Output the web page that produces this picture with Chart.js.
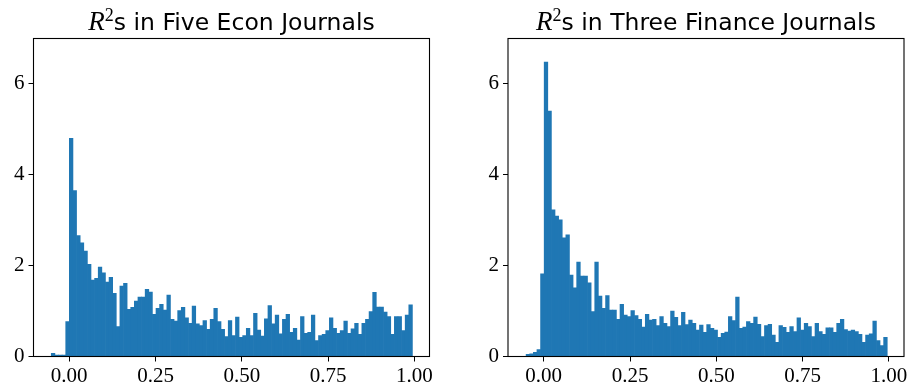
<!DOCTYPE html>
<html>
<head>
<meta charset="utf-8">
<script src="https://cdn.jsdelivr.net/npm/chart.js@4.4.1/dist/chart.umd.min.js"></script>
<style>
    body { margin: 0; background: #fff; }
    #wrap { position: relative; width: 912px; height: 388px; overflow: hidden; }
    canvas { position: absolute; top: 0; }
    .title {
        position: absolute; top: 6px; text-align: center; white-space: nowrap;
        font-family: 'DejaVu Sans', sans-serif; font-size: 23.5px; line-height: 30px; color: #000;
    }
    .title i { font-family: 'Liberation Serif', serif; font-size: 27px; }
    .title sup { font-family: 'Liberation Serif', serif; font-size: 18px; vertical-align: 0.5em; line-height: 0; }
</style>
</head>
<body>
<div id="wrap">
    <canvas id="chart-econ" width="456" height="388" style="left:0"></canvas>
    <canvas id="chart-finance" width="456" height="388" style="left:456px"></canvas>
    <div class="title" style="left:33.5px; width:396px;"><i>R</i><sup>2</sup>s in Five Econ Journals</div>
    <div class="title" style="left:508px; width:396px;"><i>R</i><sup>2</sup>s in Three Finance Journals</div>
</div>
<script>
// histogram bins (100 bins each, density on the y axis)
const binWidth = 0.01046;
const econBinStart = -0.052;
const financeBinStart = -0.051;

const xTicks = [0, 0.25, 0.5, 0.75, 1];
const yTicks = [0, 2, 4, 6];

const econDensity = [
    0.07, 0.03, 0.03, 0.03, 0.77, 4.80, 3.65, 2.66, 2.50, 2.32,
    2.03, 1.68, 1.72, 1.97, 1.84, 1.64, 1.74, 1.39, 0.66, 1.55,
    1.61, 1.04, 1.08, 1.22, 1.31, 1.31, 1.48, 1.42, 0.93, 1.06,
    1.15, 1.02, 1.35, 0.82, 0.78, 1.01, 1.08, 0.85, 0.73, 1.11,
    0.72, 0.68, 0.79, 0.60, 0.82, 1.06, 0.77, 0.60, 0.44, 0.79,
    0.46, 0.87, 0.42, 0.46, 0.62, 0.46, 0.95, 0.58, 0.45, 0.83,
    1.12, 0.72, 0.91, 0.50, 0.82, 0.93, 0.53, 0.62, 0.36, 0.88,
    0.51, 0.53, 0.91, 0.35, 0.46, 0.49, 0.57, 0.85, 0.62, 0.51,
    0.57, 0.78, 0.51, 0.61, 0.73, 0.49, 0.73, 0.82, 0.99, 1.41,
    1.09, 1.09, 0.98, 0.88, 0.49, 0.88, 0.88, 0.57, 0.91, 1.14
];

const financeDensity = [
    0.05, 0.06, 0.09, 0.15, 1.82, 6.48, 5.40, 3.23, 3.09, 3.01,
    2.61, 2.68, 1.79, 1.51, 2.08, 1.77, 1.77, 1.62, 0.99, 2.08,
    1.33, 1.06, 1.34, 1.02, 1.02, 0.82, 1.15, 0.91, 0.88, 1.01,
    0.90, 0.82, 0.65, 0.93, 0.80, 0.82, 0.68, 0.88, 0.73, 0.66,
    1.00, 0.86, 0.68, 0.97, 0.70, 0.80, 0.73, 0.58, 0.69, 0.53,
    0.70, 0.62, 0.58, 0.42, 0.51, 0.54, 0.88, 0.79, 1.31, 0.62,
    0.65, 0.77, 0.73, 0.87, 0.71, 0.44, 0.68, 0.71, 0.47, 0.31,
    0.68, 0.64, 0.53, 0.66, 0.55, 0.85, 0.58, 0.73, 0.66, 0.44,
    0.73, 0.55, 0.49, 0.63, 0.63, 0.53, 0.73, 0.82, 0.59, 0.56,
    0.58, 0.55, 0.49, 0.31, 0.47, 0.50, 0.78, 0.35, 0.24, 0.42
];

const X_MIN = -0.1035, X_MAX = 1.0435;
const Y_MIN = 0, Y_MAX = 7;
const BAR_COLOR = '#1f77b4';
const TICK_FONT = { family: 'Liberation Serif', size: 21 };

// draws the full box round the plot area, like matplotlib spines
const framePlugin = {
    id: 'frame',
    afterDraw(chart) {
        const { ctx, chartArea: a } = chart;
        ctx.save();
        ctx.strokeStyle = '#000';
        ctx.lineWidth = 1.1;
        ctx.strokeRect(a.left, a.top, a.right - a.left, a.bottom - a.top);
        ctx.restore();
    }
};

function makeHistogram(canvasId, binStart, density, yAxisWidth, padRight) {
    const points = density.map((v, i) => ({ x: binStart + (i + 0.5) * binWidth, y: v }));

    return new Chart(document.getElementById(canvasId), {
        type: 'bar',
        data: {
            datasets: [{
                data: points,
                backgroundColor: BAR_COLOR,
                borderWidth: 0,
                barPercentage: 1,
                categoryPercentage: 1
            }]
        },
        options: {
            responsive: false,
            animation: false,
            events: [],
            layout: { padding: { left: 0, top: 38.5, right: padRight, bottom: 0 } },
            plugins: {
                legend: { display: false },
                tooltip: { enabled: false }
            },
            scales: {
                x: {
                    type: 'linear',
                    min: X_MIN,
                    max: X_MAX,
                    offset: false,
                    afterFit: s => { s.height = 31.5; },
                    afterBuildTicks: s => { s.ticks = xTicks.map(v => ({ value: v })); },
                    border: { display: false },
                    grid: { offset: false, drawOnChartArea: false, drawTicks: true, tickLength: 5, tickColor: '#000', tickWidth: 1 },
                    ticks: {
                        color: '#000',
                        font: TICK_FONT,
                        padding: 2,
                        maxRotation: 0,
                        autoSkip: false,
                        callback: v => v.toFixed(2)
                    }
                },
                y: {
                    min: Y_MIN,
                    max: Y_MAX,
                    afterFit: s => { s.width = yAxisWidth; },
                    afterBuildTicks: s => { s.ticks = yTicks.map(v => ({ value: v })); },
                    border: { display: false },
                    grid: { drawOnChartArea: false, drawTicks: true, tickLength: 5, tickColor: '#000', tickWidth: 1 },
                    ticks: {
                        color: '#000',
                        font: TICK_FONT,
                        padding: 4,
                        callback: v => String(v)
                    }
                }
            }
        },
        plugins: [framePlugin]
    });
}

makeHistogram('chart-econ', econBinStart, econDensity, 33.5, 26.5);
makeHistogram('chart-finance', financeBinStart, financeDensity, 52, 8);
</script>
</body>
</html>
